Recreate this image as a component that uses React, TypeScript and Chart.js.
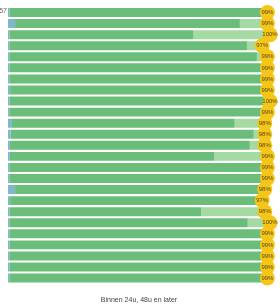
import React, { useEffect, useRef } from "react";
import { Chart, registerables } from "chart.js";

Chart.register(...registerables);

const categories = [
  "R1", "R2", "R3", "R4", "R5", "R6", "R7", "R8", "R9", "R10",
  "R11", "R12", "R13", "R14", "R15", "R16", "R17", "R18", "R19", "R20",
  "R21", "R22", "R23", "R24", "R25",
];

// later / blue segment
const laterValues = [0.5, 2.7, 0.5, 0.5, 0.5, 0.5, 0.5, 0.8, 0.5, 0.5, 1.5, 1.0, 0.7, 0.7, 0.5, 0.5, 2.7, 0.8, 0.5, 0.5, 0.5, 0.5, 0.5, 0.5, 0.5];
// within 24h / dark green
const within24Values = [98.0, 85.8, 70.3, 90.7, 94.5, 97.5, 98.0, 98.0, 99.5, 97.0, 85.0, 92.8, 91.6, 78.1, 98.0, 98.0, 95.0, 95.5, 73.3, 91.0, 98.0, 98.0, 98.0, 98.0, 98.0];
// within 48h / light green
const within48Values = [0.5, 10.5, 29.2, 5.8, 4.0, 1.0, 0.5, 0.2, 0.0, 1.5, 11.5, 4.2, 5.7, 20.2, 0.5, 0.5, 0.3, 0.7, 24.2, 8.5, 0.5, 0.5, 0.5, 0.5, 0.5];
const totalLabels = ["99%", "99%", "100%", "97%", "99%", "99%", "99%", "99%", "100%", "99%", "98%", "98%", "98%", "99%", "99%", "99%", "98%", "97%", "98%", "100%", "99%", "99%", "99%", "99%", "99%"];
const chartTitle = "Binnen 24u, 48u en later";

const badgePlugin = {
  id: "badges",
  afterDatasetsDraw(chart: any) {
    const ctx = chart.ctx;
    const xScale = chart.scales.x;
    const meta = chart.getDatasetMeta(0);
    const n = categories.length;
    const pts: { x: number; y: number }[] = [];
    for (let i = 0; i < n; i++) {
      const total = laterValues[i] + within24Values[i] + within48Values[i];
      const x = xScale.getPixelForValue(total);
      const y = meta.data[i].y;
      pts.push({ x, y });
    }
    ctx.save();
    ctx.fillStyle = "#f5c518";
    for (const p of pts) {
      ctx.beginPath();
      ctx.arc(p.x, p.y, 7.5, 0, Math.PI * 2);
      ctx.fill();
    }
    ctx.fillStyle = "#5a4a20";
    ctx.font = "6px Arial, 'Liberation Sans', sans-serif";
    ctx.textAlign = "center";
    ctx.textBaseline = "middle";
    for (let i = 0; i < n; i++) {
      ctx.fillText(totalLabels[i], pts[i].x, pts[i].y);
    }
    // cut-off label at top-left
    ctx.fillStyle = "#666";
    ctx.font = "7px Arial, 'Liberation Sans', sans-serif";
    ctx.textAlign = "right";
    ctx.fillText("57", 7, pts[0].y - 1);
    ctx.restore();
  },
};

export default function App() {
  const ref = useRef<HTMLCanvasElement | null>(null);
  useEffect(() => {
    document.body.style.margin = "0";
    if (!ref.current) return;
    const chart = new Chart(ref.current, {
      type: "bar",
      data: {
        labels: categories,
        datasets: [
          { label: "later", data: laterValues, backgroundColor: "rgb(125,185,200)", categoryPercentage: 0.9, barPercentage: 0.9 },
          { label: "24u", data: within24Values, backgroundColor: "rgb(106,190,122)", categoryPercentage: 0.9, barPercentage: 0.9 },
          { label: "48u", data: within48Values, backgroundColor: "rgb(165,218,162)", categoryPercentage: 0.9, barPercentage: 0.9 },
        ],
      },
      options: {
        indexAxis: "y",
        animation: false,
        responsive: false,
        layout: { padding: { top: 7, left: 8, right: 10, bottom: 0 } },
        scales: {
          x: { stacked: true, min: 0, max: 100, display: false },
          y: { stacked: true, display: false },
        },
        plugins: {
          legend: { display: false },
          tooltip: { enabled: false },
          title: {
            display: true,
            position: "bottom",
            text: chartTitle,
            color: "#444",
            font: { size: 7, weight: "normal", family: "Arial, 'Liberation Sans', sans-serif" },
            padding: { top: 12, bottom: 4 },
          },
        },
      } as any,
      plugins: [badgePlugin],
    });
    return () => chart.destroy();
  }, []);
  return <canvas ref={ref} width={280} height={308} style={{ display: "block" }} />;
}
